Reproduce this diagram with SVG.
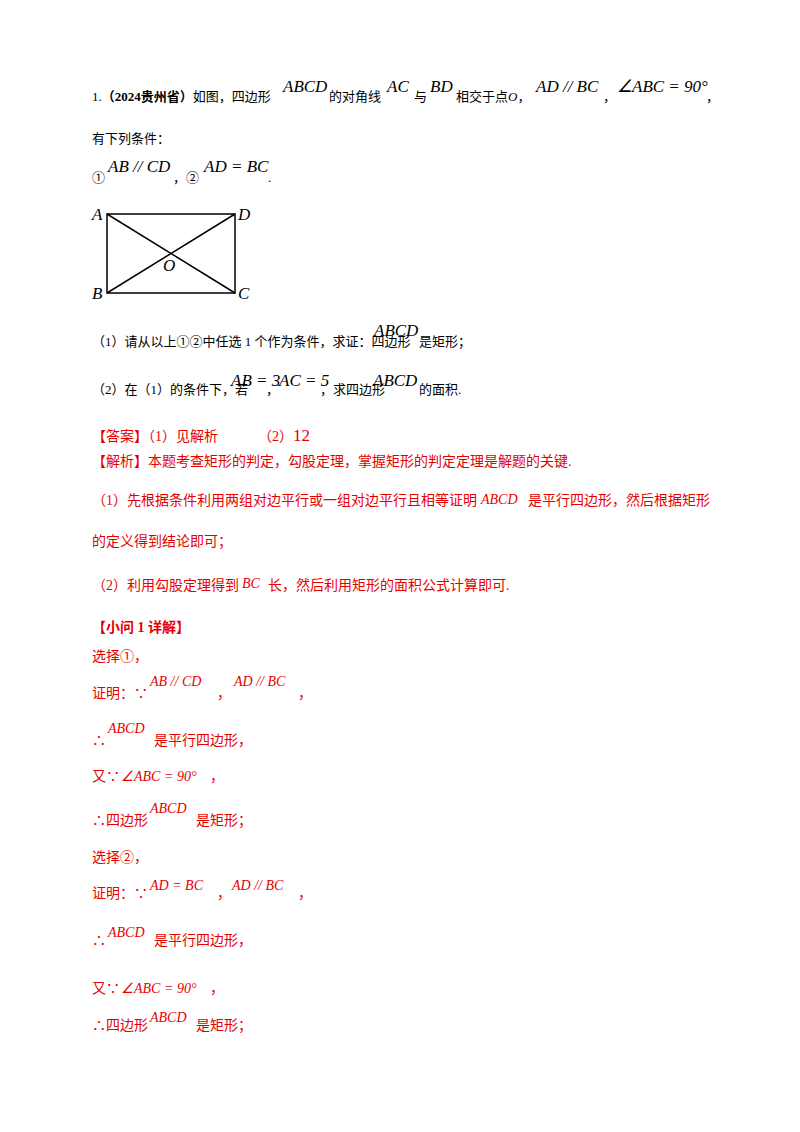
<svg xmlns="http://www.w3.org/2000/svg" width="800" height="1132" viewBox="0 0 800 1132">
<style>
.c{font-family:"Liberation Serif","Noto Sans CJK SC",serif;font-size:13px;fill:#000}
.m{font-family:"Liberation Serif",serif;font-style:italic;font-size:17px;fill:#000}
.r{fill:#e60000;font-size:14px}
.b{font-weight:bold}
</style>
<rect width="800" height="1132" fill="#fff"/>
<g id="text-question">
<text class="c" x="92" y="101">1.<tspan class="b">（2024贵州省）</tspan>如图，四边形</text>
<text class="m" x="283" y="92">ABCD</text>
<text class="c" x="329" y="101">的对角线</text>
<text class="m" x="387" y="92">AC</text>
<text class="c" x="414" y="101">与</text>
<text class="m" x="430" y="92">BD</text>
<text class="c" x="456" y="101">相交于点<tspan font-style="italic">O</tspan>，</text>
<text class="m" x="536" y="92">AD // BC</text>
<text class="c" x="603" y="101">，</text>
<text class="m" x="617" y="92">∠ABC = 90°</text>
<text class="c" x="706" y="101">，</text>
<text class="c" x="92" y="143">有下列条件：</text>
<text class="c" x="92" y="182">①</text>
<text class="m" x="108" y="172">AB // CD</text>
<text class="c" x="173" y="182">，②</text>
<text class="m" x="204" y="172">AD = BC</text>
<text class="c" x="268" y="182">.</text>
</g>
<g id="figure" fill="none" stroke="#000" stroke-width="1.5">
<rect x="107" y="214" width="128" height="79"/>
<line x1="107" y1="214" x2="235" y2="293"/>
<line x1="107" y1="293" x2="235" y2="214"/>
</g>
<g id="figure-labels">
<text class="m" x="92" y="220" font-size="15">A</text>
<text class="m" x="238" y="220" font-size="15">D</text>
<text class="m" x="92" y="299" font-size="15">B</text>
<text class="m" x="238" y="299" font-size="15">C</text>
<text class="m" x="163" y="271" font-size="15">O</text>
</g>
<g id="text-parts">
<text class="c" x="92" y="346">（1）请从以上①②中任选 1 个作为条件，求证：四边形</text>
<text class="m" x="374" y="336">ABCD</text>
<text class="c" x="419" y="346">是矩形；</text>
<text class="c" x="92" y="394">（2）在（1）的条件下，若</text>
<text class="m" x="231" y="386" font-size="15">AB = 3</text>
<text class="c" x="266" y="394">，</text>
<text class="m" x="279" y="386" font-size="16">AC = 5</text>
<text class="c" x="320" y="394">，求四边形</text>
<text class="m" x="373" y="386">ABCD</text>
<text class="c" x="419" y="394">的面积.</text>
</g>
<g id="text-answer">
<text class="c r" x="92" y="441">【答案】（1）见解析</text>
<text class="c r" x="258" y="441">（2）<tspan font-size="17">12</tspan></text>
<text class="c r" x="92" y="466">【解析】本题考查矩形的判定，勾股定理，掌握矩形的判定定理是解题的关键.</text>
<text class="c r" x="92" y="505">（1）先根据条件利用两组对边平行或一组对边平行且相等证明</text>
<text class="m r" x="481" y="504" font-size="18">ABCD</text>
<text class="c r" x="528" y="505">是平行四边形，然后根据矩形</text>
<text class="c r" x="92" y="546">的定义得到结论即可；</text>
<text class="c r" x="92" y="590">（2）利用勾股定理得到</text>
<text class="m r" x="242" y="588" font-size="18">BC</text>
<text class="c r" x="268" y="590">长，然后利用矩形的面积公式计算即可.</text>
<text class="c r b" x="92" y="632">【小问 1 详解】</text>
<text class="c r" x="92" y="661">选择①，</text>
<text class="c r" x="92" y="698">证明：∵</text>
<text class="m r" x="150" y="686" font-size="17">AB // CD</text>
<text class="c r" x="217" y="698">，</text>
<text class="m r" x="234" y="686" font-size="17">AD // BC</text>
<text class="c r" x="298" y="698">，</text>
<text class="c r" x="92" y="745">∴</text>
<text class="m r" x="108" y="733" font-size="17">ABCD</text>
<text class="c r" x="154" y="745">是平行四边形，</text>
<text class="c r" x="92" y="781">又∵</text>
<text class="m r" x="121" y="781" font-size="17">∠ABC = 90°</text>
<text class="c r" x="210" y="781">，</text>
<text class="c r" x="92" y="825">∴四边形</text>
<text class="m r" x="150" y="813" font-size="17">ABCD</text>
<text class="c r" x="196" y="825">是矩形；</text>
<text class="c r" x="92" y="862">选择②，</text>
<text class="c r" x="92" y="898">证明：∵</text>
<text class="m r" x="150" y="890" font-size="17">AD = BC</text>
<text class="c r" x="217" y="898">，</text>
<text class="m r" x="232" y="890" font-size="17">AD // BC</text>
<text class="c r" x="298" y="898">，</text>
<text class="c r" x="92" y="945">∴</text>
<text class="m r" x="108" y="937" font-size="17">ABCD</text>
<text class="c r" x="154" y="945">是平行四边形，</text>
<text class="c r" x="92" y="993">又∵</text>
<text class="m r" x="121" y="993" font-size="17">∠ABC = 90°</text>
<text class="c r" x="210" y="993">，</text>
<text class="c r" x="92" y="1030">∴四边形</text>
<text class="m r" x="150" y="1022" font-size="17">ABCD</text>
<text class="c r" x="196" y="1030">是矩形；</text>
</g>
</svg>
